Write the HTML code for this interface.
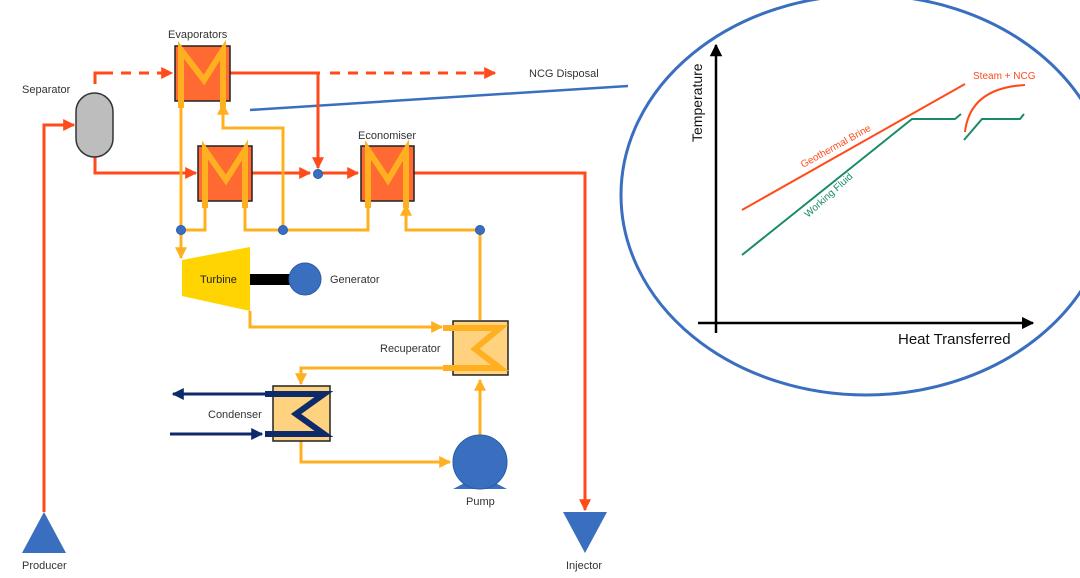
<!DOCTYPE html>
<html><head><meta charset="utf-8"><style>
html,body{margin:0;padding:0;background:#fff;}
svg{display:block;font-family:"Liberation Sans",sans-serif;}
</style></head><body>
<svg width="1080" height="578" viewBox="0 0 1080 578" xmlns="http://www.w3.org/2000/svg">
<defs>
<marker id="ar" viewBox="0 0 10 10" refX="9" refY="5" markerWidth="4" markerHeight="4" orient="auto"><path d="M0,0L10,5L0,10z" fill="#ff4a1a"/></marker>
<marker id="ao" viewBox="0 0 10 10" refX="9" refY="5" markerWidth="4" markerHeight="4" orient="auto"><path d="M0,0L10,5L0,10z" fill="#ffb020"/></marker>
<marker id="an" viewBox="0 0 10 10" refX="9" refY="5" markerWidth="4" markerHeight="4" orient="auto"><path d="M0,0L10,5L0,10z" fill="#0d2a6b"/></marker>
<marker id="ak" viewBox="0 0 10 10" refX="9" refY="5" markerWidth="5" markerHeight="5" orient="auto"><path d="M0,0L10,5L0,10z" fill="#000"/></marker>
</defs>
<rect width="1080" height="578" fill="#fff"/>

<!-- zoom circle -->
<ellipse cx="866" cy="195" rx="245" ry="200" fill="#fff" stroke="#3a6fc0" stroke-width="3"/>
<line x1="250" y1="110" x2="628" y2="86" stroke="#3a6fc0" stroke-width="2.5"/>

<!-- red brine lines -->
<g fill="none" stroke="#ff4a1a" stroke-width="3">
<polyline points="44,512 44,125 74,125" marker-end="url(#ar)"/>
<polyline points="95,84 95,73 103,73"/>
<line x1="103" y1="73" x2="172" y2="73" stroke-dasharray="10,8" marker-end="url(#ar)"/>
<line x1="230" y1="73" x2="320" y2="73"/>
<line x1="330" y1="73" x2="495" y2="73" stroke-dasharray="10,8" marker-end="url(#ar)"/>
<polyline points="318,73 318,168" marker-end="url(#ar)"/>
<polyline points="95,157 95,173 196,173" marker-end="url(#ar)"/>
<line x1="252" y1="173" x2="310" y2="173" marker-end="url(#ar)"/>
<line x1="318" y1="173" x2="358" y2="173" marker-end="url(#ar)"/>
<polyline points="414,173 585,173 585,510" marker-end="url(#ar)"/>
</g>

<!-- orange working fluid lines -->
<g fill="none" stroke="#ffb020" stroke-width="3">
<polyline points="181,101 181,258" marker-end="url(#ao)"/>
<polyline points="283,230 283,128 223,128 223,104" marker-end="url(#ao)"/>
<polyline points="205,201 205,230 181,230"/>
<polyline points="245,201 245,230 368,230 368,201"/>
<polyline points="480,320 480,230 406,230 406,205" marker-end="url(#ao)"/>
<polyline points="250,311 250,327 442,327" marker-end="url(#ao)"/>
<polyline points="443,368 301,368 301,384" marker-end="url(#ao)"/>
<polyline points="301,441 301,462 450,462" marker-end="url(#ao)"/>
<polyline points="480,436 480,380" marker-end="url(#ao)"/>
</g>

<!-- heat exchangers -->
<g>
<rect x="175" y="46" width="55" height="55" fill="#ff6a33" stroke="#222" stroke-width="1.5"/>
<polyline points="181,108 181,50 204,80 223,50 223,108" fill="none" stroke="#ffb020" stroke-width="6"/>
<rect x="198" y="146" width="54" height="55" fill="#ff6a33" stroke="#222" stroke-width="1.5"/>
<polyline points="205,208 205,150 226,180 245,150 245,208" fill="none" stroke="#ffb020" stroke-width="6"/>
<rect x="361" y="146" width="53" height="55" fill="#ff6a33" stroke="#222" stroke-width="1.5"/>
<polyline points="368,208 368,150 388,180 406,150 406,208" fill="none" stroke="#ffb020" stroke-width="6"/>
</g>

<!-- separator -->
<rect x="76" y="93" width="37" height="64" rx="18.5" fill="#bdbdbd" stroke="#333" stroke-width="1.5"/>

<!-- dots -->
<g fill="#3a6fc0" stroke="#2a5aa8" stroke-width="1">
<circle cx="318" cy="174" r="4.5"/><circle cx="181" cy="230" r="4.5"/><circle cx="283" cy="230" r="4.5"/><circle cx="480" cy="230" r="4.5"/>
</g>

<!-- turbine & generator -->
<polygon points="182,260 250,247 250,311 182,296" fill="#ffd400"/>
<rect x="250" y="274" width="42" height="11" fill="#000"/>
<circle cx="305" cy="279" r="16" fill="#3a6fc0" stroke="#2a5aa8"/>

<!-- recuperator -->
<rect x="453" y="321" width="55" height="54" fill="#ffd280" stroke="#222" stroke-width="1.5"/>
<polyline points="443,328 500,328 475,349 500,368 443,368" fill="none" stroke="#ffb020" stroke-width="6"/>

<!-- condenser -->
<rect x="273" y="386" width="57" height="55" fill="#ffd280" stroke="#222" stroke-width="1.5"/>
<polyline points="265,394 324,394 296,414 324,434 265,434" fill="none" stroke="#0d2a6b" stroke-width="6"/>
<line x1="265" y1="394" x2="173" y2="394" stroke="#0d2a6b" stroke-width="3" marker-end="url(#an)"/>
<line x1="170" y1="434" x2="262" y2="434" stroke="#0d2a6b" stroke-width="3" marker-end="url(#an)"/>

<!-- pump -->
<polygon points="453,489 480,475 507,489" fill="#3a6fc0"/>
<circle cx="480" cy="462" r="27" fill="#3a6fc0" stroke="#2a5aa8"/>

<!-- producer/injector -->
<polygon points="44,512 66,553 22,553" fill="#3a6fc0"/>
<polygon points="563,512 607,512 585,553" fill="#3a6fc0"/>

<!-- labels -->
<g font-size="11" fill="#333">
<text x="168" y="38">Evaporators</text>
<text x="22" y="93">Separator</text>
<text x="358" y="139">Economiser</text>
<text x="529" y="77">NCG Disposal</text>
<text x="330" y="283">Generator</text>
<text x="380" y="352">Recuperator</text>
<text x="208" y="418">Condenser</text>
<text x="466" y="505">Pump</text>
<text x="22" y="569">Producer</text>
<text x="566" y="569">Injector</text>
<text x="200" y="283" fill="#222">Turbine</text>
</g>

<!-- chart -->
<line x1="716" y1="333" x2="716" y2="45" stroke="#000" stroke-width="2.5" marker-end="url(#ak)"/>
<line x1="698" y1="323" x2="1033" y2="323" stroke="#000" stroke-width="2.5" marker-end="url(#ak)"/>
<text x="0" y="0" font-size="14" fill="#111" transform="translate(702,142) rotate(-90)">Temperature</text>
<text x="898" y="344" font-size="15" fill="#111">Heat Transferred</text>
<line x1="742" y1="210" x2="965" y2="84" stroke="#ff4a1a" stroke-width="2"/>
<polyline points="742,255 912,119 955,119 961,114" fill="none" stroke="#1a8a6a" stroke-width="2"/>
<polyline points="964,140 982,119 1020,119 1024,114" fill="none" stroke="#1a8a6a" stroke-width="2"/>
<path d="M965,132 Q970,88 1025,85" fill="none" stroke="#ff4a1a" stroke-width="2"/>
<text x="973" y="79" font-size="10" fill="#ff4a1a">Steam + NCG</text>
<text x="0" y="0" font-size="10" fill="#ff4a1a" transform="translate(803,168) rotate(-29)">Geothermal Brine</text>
<text x="0" y="0" font-size="10" fill="#1a8a6a" transform="translate(808,218) rotate(-42)">Working Fluid</text>
</svg>
</body></html>
